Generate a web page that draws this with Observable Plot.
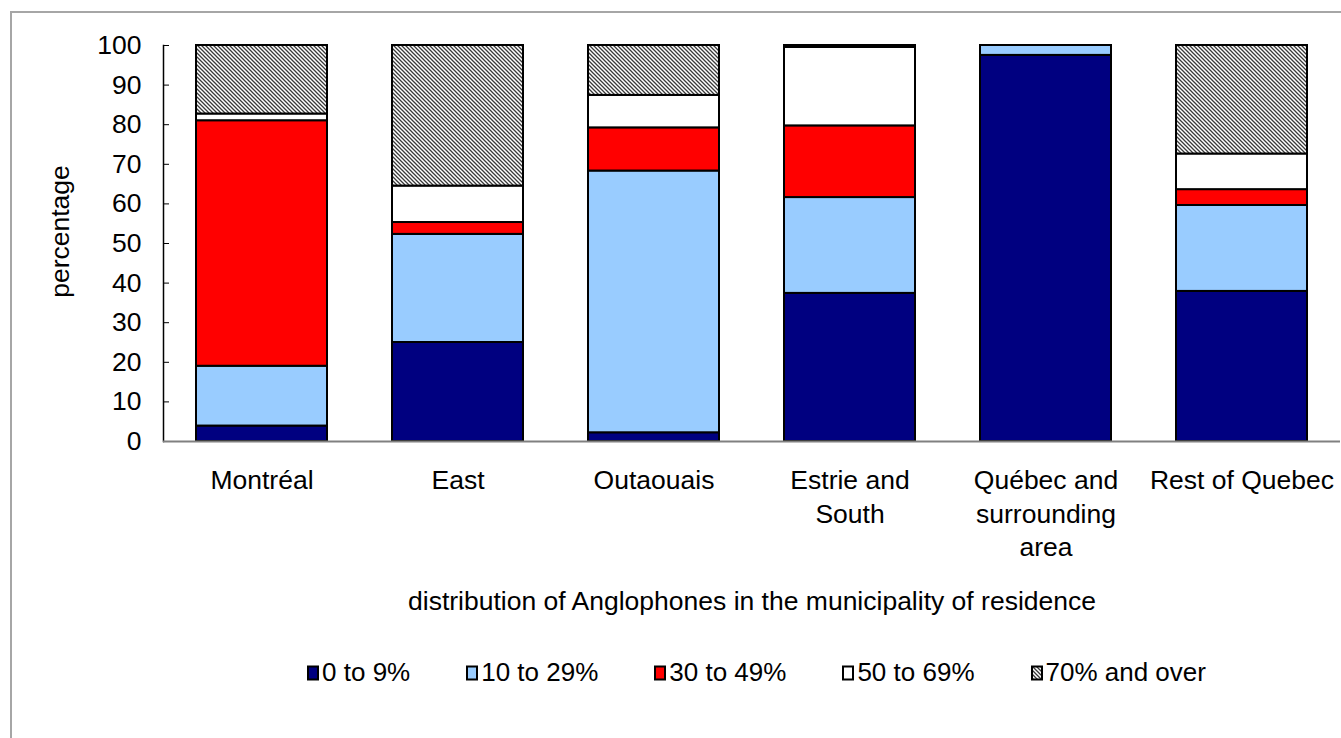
<!DOCTYPE html>
<html><head><meta charset="utf-8">
<script src="https://cdn.jsdelivr.net/npm/d3@7"></script>
<script src="https://cdn.jsdelivr.net/npm/@observablehq/plot@0.6"></script>
<style>
body{margin:0;background:#fff;}
#wrap{position:relative;width:1341px;height:738px;overflow:hidden;font-family:"Liberation Sans",Arial,sans-serif;background:#fff;}
#border{position:absolute;left:10px;top:11px;width:1400px;height:800px;border:2px solid #a6a6a6;box-sizing:border-box;}
#chart{position:absolute;left:0;top:0;}
#legend{position:absolute;top:657px;left:86px;width:1341px;display:flex;justify-content:center;gap:56px;font-size:26px;color:#000;}
.item{display:flex;align-items:center;gap:2px;white-space:nowrap;}
</style></head>
<body>
<svg width="0" height="0" style="position:absolute">
  <defs>
    <pattern id="hatch" patternUnits="userSpaceOnUse" width="4" height="4">
      <rect width="4" height="4" fill="#fff"/>
      <path d="M0,0 L4,4 M-1,3 L1,5 M3,-1 L5,1" stroke="#3a3a3a" stroke-width="1.3"/>
    </pattern>
  </defs>
</svg>
<div id="wrap">
  <div id="border"></div>
  <div id="chart"></div>
  <div id="legend"></div>
</div>
<script>
const regions = ["Montréal", "East", "Outaouais", "Estrie and\nSouth", "Québec and\nsurrounding\narea", "Rest of Quebec"];
const groups = ["0 to 9%", "10 to 29%", "30 to 49%", "50 to 69%", "70% and over"];
const share0to9   = [3.9, 25.0, 2.2, 37.4, 97.5, 37.9];
const share10to29 = [15.1, 27.3, 66.1, 24.2, 2.5, 21.7];
const share30to49 = [62.0, 3.0, 10.9, 18.1, 0, 4.0];
const share50to69 = [1.7, 9.2, 8.2, 19.8, 0, 9.0];
const share70plus = [17.3, 35.5, 12.6, 0.5, 0, 27.4];
const yTicks = [0, 10, 20, 30, 40, 50, 60, 70, 80, 90, 100];
const groupColors = ["#000080", "#99CCFF", "#FF0000", "#FFFFFF", "url(#hatch)"];
const yTitle = "percentage";
const xTitle = "distribution of Anglophones in the municipality of residence";

const series = [share0to9, share10to29, share30to49, share50to69, share70plus];
const table = regions.flatMap((r, i) => groups.map((g, j) => ({region: r, group: g, value: series[j][i]})));

const chart = Plot.plot({
  width: 1341, height: 640,
  marginLeft: 163, marginRight: 1, marginTop: 45, marginBottom: 199,
  style: {fontFamily: "'Liberation Sans', Arial, sans-serif", fontSize: "26.5px", background: "transparent", color: "#000"},
  x: {domain: regions, paddingInner: 0.332, paddingOuter: 0.166, label: null},
  y: {domain: [0, 100], label: null},
  color: {domain: groups, range: groupColors},
  marks: [
    Plot.ruleY(yTicks, {y: d => d, insetRight: 1171, stroke: "#000", strokeWidth: 1}),
    Plot.barY(table, {x: "region", y: "value", fill: "group", stroke: "#000", strokeWidth: 2}),
    Plot.frame({anchor: "left", stroke: "#000", strokeWidth: 1.5}),
    Plot.ruleY([0], {stroke: "#808080", strokeWidth: 2}),
    Plot.axisY({ticks: yTicks, tickSize: 0, tickPadding: 22, label: null, tickFormat: d => String(d), fontSize: 26.5}),
    Plot.axisX({tickSize: 0, tickPadding: 24, lineHeight: 1.265, label: null, fontSize: 26.5}),
    Plot.text([yTitle], {frameAnchor: "left", textAnchor: "middle", rotate: -90, dx: -103, dy: -12, text: d => d, fontSize: 26.5}),
    Plot.text([xTitle], {frameAnchor: "bottom", dy: 168, text: d => d, fontSize: 26.5})
  ]
});
document.getElementById("chart").appendChild(chart);

const legend = document.getElementById("legend");
groups.forEach((g, i) => {
  const item = document.createElement("div");
  item.className = "item";
  item.innerHTML = `<svg width="13" height="16"><rect x="1" y="1.5" width="10" height="13" fill="${groupColors[i]}" stroke="#000" stroke-width="2"/></svg><span>${g}</span>`;
  legend.appendChild(item);
});
</script>
</body></html>
